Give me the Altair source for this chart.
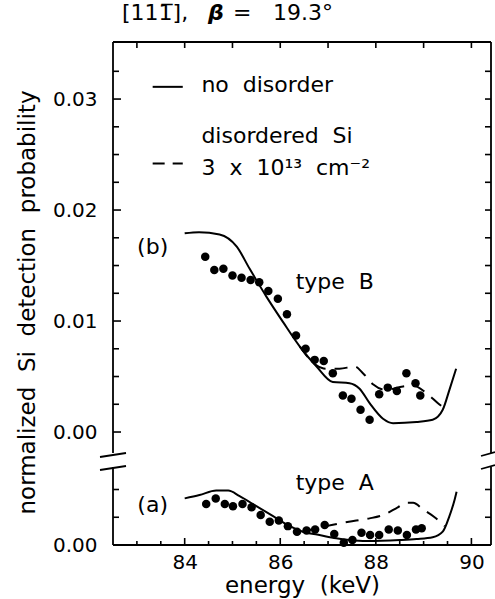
import altair as alt
import pandas as pd

FONT = "DejaVu Sans"
SP = "\u00a0\u00a0"   # wide word gap as in the original figure

# ---------------- scales / layout constants ----------------
X_DOMAIN = [82.5, 90.41]
Y_DOMAIN = [0.0, 0.04532]
OFFSET = 0.01018          # shift of panel (b) above the axis break
W, H = 378, 503
BREAK_TOP, BREAK_BOT = 411, 425

# ---------------- panel (b): type B ----------------
b_solid_E = [84.00, 84.30, 84.73, 85.09, 85.36, 85.71, 86.06, 86.41, 86.76, 87.10, 87.45,
             87.66, 87.87, 88.15, 88.36, 88.85, 89.19, 89.40, 89.54, 89.68]
b_solid_P = [0.0179, 0.0180, 0.0178, 0.0167, 0.0147, 0.0122, 0.0099, 0.0077, 0.0059, 0.0045, 0.0044,
             0.0039, 0.0026, 0.0012, 0.0008, 0.0009, 0.0011, 0.0020, 0.0038, 0.0057]
b_dash_E = [86.41, 86.76, 86.95, 87.24, 87.56, 87.73, 87.94, 88.20, 88.57, 88.78, 89.06, 89.30, 89.45]
b_dash_P = [0.0077, 0.0060, 0.0057, 0.0057, 0.0059, 0.0053, 0.0043, 0.0038, 0.0041, 0.0042, 0.0035, 0.0026, 0.0021]
b_dots_E = [84.43, 84.62, 84.81, 85.00, 85.19, 85.38, 85.56, 85.75, 85.95, 86.14, 86.33, 86.53, 86.72,
            86.91, 87.10, 87.31, 87.49, 87.68, 87.87, 88.07, 88.25, 88.44, 88.64, 88.83, 88.93]
b_dots_P = [0.0158, 0.0146, 0.0147, 0.0141, 0.0139, 0.0137, 0.0135, 0.0127, 0.0120, 0.0106, 0.0087, 0.0075, 0.0065,
            0.0064, 0.0053, 0.0033, 0.0030, 0.0020, 0.0011, 0.0034, 0.0040, 0.0037, 0.0053, 0.0044, 0.0033]

# ---------------- panel (a): type A ----------------
a_solid_E = [84.00, 84.31, 84.66, 84.91, 85.15, 85.50, 85.85, 86.20, 86.47, 86.82, 87.17, 87.45,
             87.80, 88.50, 88.85, 89.19, 89.40, 89.54, 89.65, 89.69]
a_solid_P = [0.0042, 0.0045, 0.0049, 0.0049, 0.0044, 0.0035, 0.0026, 0.0017, 0.0012, 0.0009, 0.0006, 0.00045,
             0.00036, 0.00045, 0.00054, 0.0007, 0.0012, 0.0026, 0.0041, 0.0048]
a_dash_E = [86.47, 86.96, 87.31, 87.59, 87.87, 88.15, 88.46, 88.64, 88.78, 88.99, 89.23, 89.44]
a_dash_P = [0.0012, 0.0017, 0.0020, 0.0022, 0.0024, 0.0027, 0.0034, 0.0038, 0.0038, 0.0032, 0.0025, 0.0017]
a_dots_E = [84.45, 84.65, 84.84, 85.01, 85.21, 85.40, 85.59, 85.78, 85.97, 86.16, 86.35, 86.55, 86.73,
            86.93, 87.13, 87.33, 87.51, 87.70, 87.88, 88.07, 88.27, 88.46, 88.65, 88.84, 88.96]
a_dots_P = [0.0037, 0.0042, 0.0037, 0.0035, 0.0037, 0.0034, 0.0027, 0.0021, 0.0022, 0.0017, 0.0012, 0.0013, 0.0014,
            0.0018, 0.0010, 0.0002, 0.00045, 0.0011, 0.0009, 0.0009, 0.0014, 0.0013, 0.0009, 0.0014, 0.0015]

# ---------------- annotations ----------------
center_labels = ["(b)", "type" + SP + "B", "(a)", "type" + SP + "A"]
center_E = [83.33, 87.14, 83.33, 87.14]
center_P = [0.0167, 0.0135, 0.0036, 0.0056]
center_panel = ["b", "b", "a", "a"]

legend_labels = ["no" + SP + "disorder", "disordered" + SP + "Si",
                 "3" + SP + "x" + SP + "10\u00b9\u00b3" + SP + "cm\u207b\u00b2"]
legend_E = [84.35, 84.35, 84.35]
legend_P = [0.0313, 0.0267, 0.0238]
legend_line_E = [83.33, 83.33]
legend_line_E2 = [83.96, 83.96]
legend_line_P = [0.0311, 0.0242]
legend_line_style = ["solid", "dashed"]

# ---------------- tick values ----------------
x_major_ticks = [84, 86, 88, 90]
x_minor_ticks = [83, 83.5, 84.5, 85, 85.5, 86.5, 87, 87.5, 88.5, 89, 89.5]
x_top_ticks = [83, 84, 85, 86, 87, 88, 89, 90]
yb_major_ticks = [0.0, 0.01, 0.02, 0.03]
yb_minor_ticks = [0.0025, 0.005, 0.0075, 0.0125, 0.015, 0.0175, 0.0225, 0.025, 0.0275, 0.0325]
ya_ticks = [0.0025, 0.005]
y_label_values = [0.0, OFFSET, OFFSET + 0.01, OFFSET + 0.02, OFFSET + 0.03]

# ---------------- tables ----------------
def table(E, P, panel):
    return pd.DataFrame({"E": E, "P": P, "panel": [panel] * len(E)})

solid_df = pd.concat([table(b_solid_E, b_solid_P, "b"), table(a_solid_E, a_solid_P, "a")])
dash_df = pd.concat([table(b_dash_E, b_dash_P, "b"), table(a_dash_E, a_dash_P, "a")])
dots_df = pd.concat([table(b_dots_E, b_dots_P, "b"), table(a_dots_E, a_dots_P, "a")])
center_df = pd.DataFrame({"E": center_E, "P": center_P, "panel": center_panel, "label": center_labels})
legend_df = pd.DataFrame({"E": legend_E, "P": legend_P, "panel": ["b"] * 3, "label": legend_labels})
legline_df = pd.DataFrame({"E": legend_line_E, "E2": legend_line_E2, "P": legend_line_P,
                           "panel": ["b", "b"], "style": legend_line_style})
ymaj_df = pd.DataFrame({"P": yb_major_ticks, "panel": ["b"] * len(yb_major_ticks)})
ymin_df = pd.concat([pd.DataFrame({"P": yb_minor_ticks, "panel": ["b"] * len(yb_minor_ticks)}),
                     pd.DataFrame({"P": ya_ticks, "panel": ["a"] * len(ya_ticks)})])
yright_df = pd.concat([ymaj_df, ymin_df])
dummy = pd.DataFrame({"k": [0]})

CALC = "datum.P + (datum.panel == 'b' ? %r : 0)" % OFFSET

xscale = alt.Scale(domain=X_DOMAIN, nice=False, zero=False)
yscale = alt.Scale(domain=Y_DOMAIN, nice=False, zero=False)

x_axis = alt.Axis(values=x_major_ticks, format="d", ticks=False, domain=False, grid=False,
                  labelFont=FONT, labelFontSize=20, labelColor="black", labelPadding=7,
                  labelFlush=False, title="energy" + SP + "(keV)", titleFont=FONT, titleFontSize=23,
                  titleFontWeight="normal", titleColor="black", titleBaseline="alphabetic",
                  titleY=47)
y_axis = alt.Axis(values=y_label_values,
                  labelExpr="datum.value < 0.005 ? '0.00' : format(abs(datum.value - %r), '.2f')" % OFFSET,
                  ticks=False, domain=False, grid=False,
                  labelFont=FONT, labelFontSize=20, labelColor="black", labelPadding=16,
                  title="normalized" + SP + "Si" + SP + "detection" + SP + "probability",
                  titleFont=FONT, titleFontSize=23,
                  titleFontWeight="normal", titleColor="black", titleAngle=270,
                  titleBaseline="alphabetic", titleAlign="center", titleX=-79, titleY=260)


def X():
    return alt.X("E:Q", scale=xscale, axis=x_axis)


def Y():
    return alt.Y("Pd:Q", scale=yscale, axis=y_axis)


LW = 2

solid = alt.Chart(solid_df).transform_calculate(Pd=CALC).mark_line(
    color="black", strokeWidth=LW, interpolate="monotone").encode(x=X(), y=Y(), detail="panel:N")
dashed = alt.Chart(dash_df).transform_calculate(Pd=CALC).mark_line(
    color="black", strokeWidth=LW, interpolate="monotone", strokeDash=[13, 9]).encode(
    x=X(), y=Y(), detail="panel:N")
dots = alt.Chart(dots_df).transform_calculate(Pd=CALC).mark_circle(
    size=72, color="black", opacity=1).encode(x=X(), y=Y())

center_text = alt.Chart(center_df).transform_calculate(Pd=CALC).mark_text(
    font=FONT, fontSize=22, align="center", baseline="middle", color="black").encode(
    x=X(), y=Y(), text="label:N")
legend_text = alt.Chart(legend_df).transform_calculate(Pd=CALC).mark_text(
    font=FONT, fontSize=22, align="left", baseline="middle", color="black").encode(
    x=X(), y=Y(), text="label:N")
leg_solid = alt.Chart(legline_df).transform_filter("datum.style == 'solid'").transform_calculate(
    Pd=CALC).mark_rule(color="black", strokeWidth=LW).encode(x=X(), x2="E2:Q", y=Y())
leg_dash = alt.Chart(legline_df).transform_filter("datum.style == 'dashed'").transform_calculate(
    Pd=CALC).mark_rule(color="black", strokeWidth=LW, strokeDash=[12, 8]).encode(x=X(), x2="E2:Q", y=Y())

TW = 1.6
tick_ymaj = alt.Chart(ymaj_df).transform_calculate(Pd=CALC).mark_rule(color="black", strokeWidth=TW).encode(
    y=Y(), x=alt.value(0), x2=alt.value(8))
tick_ymin = alt.Chart(ymin_df).transform_calculate(Pd=CALC).mark_rule(color="black", strokeWidth=TW).encode(
    y=Y(), x=alt.value(0), x2=alt.value(6))
tick_yright = alt.Chart(yright_df).transform_calculate(Pd=CALC).mark_rule(color="black", strokeWidth=TW).encode(
    y=Y(), x=alt.value(W - 6), x2=alt.value(W))
tick_xmaj = alt.Chart(pd.DataFrame({"E": x_major_ticks})).mark_rule(color="black", strokeWidth=TW).encode(
    x=X(), y=alt.value(H - 7), y2=alt.value(H))
tick_xmin = alt.Chart(pd.DataFrame({"E": x_minor_ticks})).mark_rule(color="black", strokeWidth=TW).encode(
    x=X(), y=alt.value(H - 4), y2=alt.value(H))
tick_xtop = alt.Chart(pd.DataFrame({"E": x_top_ticks})).mark_rule(color="black", strokeWidth=TW).encode(
    x=X(), y=alt.value(0), y2=alt.value(6))


def seg(x1, y1, x2, y2, w=1.8):
    return alt.Chart(dummy).mark_rule(color="black", strokeWidth=w).encode(
        x=alt.value(x1), y=alt.value(y1), x2=alt.value(x2), y2=alt.value(y2))


frame = [
    seg(0, 0, W, 0),
    seg(0, H, W, H),
    seg(0, 0, 0, BREAK_TOP),
    seg(0, BREAK_BOT, 0, H),
    seg(W, 0, W, BREAK_TOP),
    seg(W, BREAK_BOT, W, H),
    seg(-13, BREAK_TOP + 4, 13, BREAK_TOP),
    seg(-13, BREAK_BOT + 3, 13, BREAK_BOT - 1),
    seg(W - 10, BREAK_TOP + 3, W + 4, BREAK_TOP - 1),
    seg(W - 10, BREAK_BOT + 2, W + 4, BREAK_BOT - 2),
]


def title_piece(txt, x, **kw):
    return alt.Chart(dummy).mark_text(text=txt, align="left", baseline="alphabetic", font=FONT,
                                      fontSize=22, color="black", **kw).encode(
        x=alt.value(x), y=alt.value(-22))


title_parts = [
    title_piece("[11" + "1\u0305" + "],", 9),
    title_piece("\u03b2", 95, fontWeight="bold", fontStyle="italic"),
    title_piece("=", 120),
    title_piece("19.3\u00b0", 160),
]

chart = alt.layer(
    *frame, tick_ymaj, tick_ymin, tick_yright, tick_xmaj, tick_xmin, tick_xtop,
    solid, dashed, dots, center_text, legend_text, leg_solid, leg_dash, *title_parts
).properties(
    width=W, height=H,
    autosize=alt.AutoSizeParams(type="none"),
    padding={"left": 113, "top": 42, "right": 4, "bottom": 54},
).configure_view(stroke=None)

chart.save("out.html", embed_options={"renderer": "svg", "actions": False})
